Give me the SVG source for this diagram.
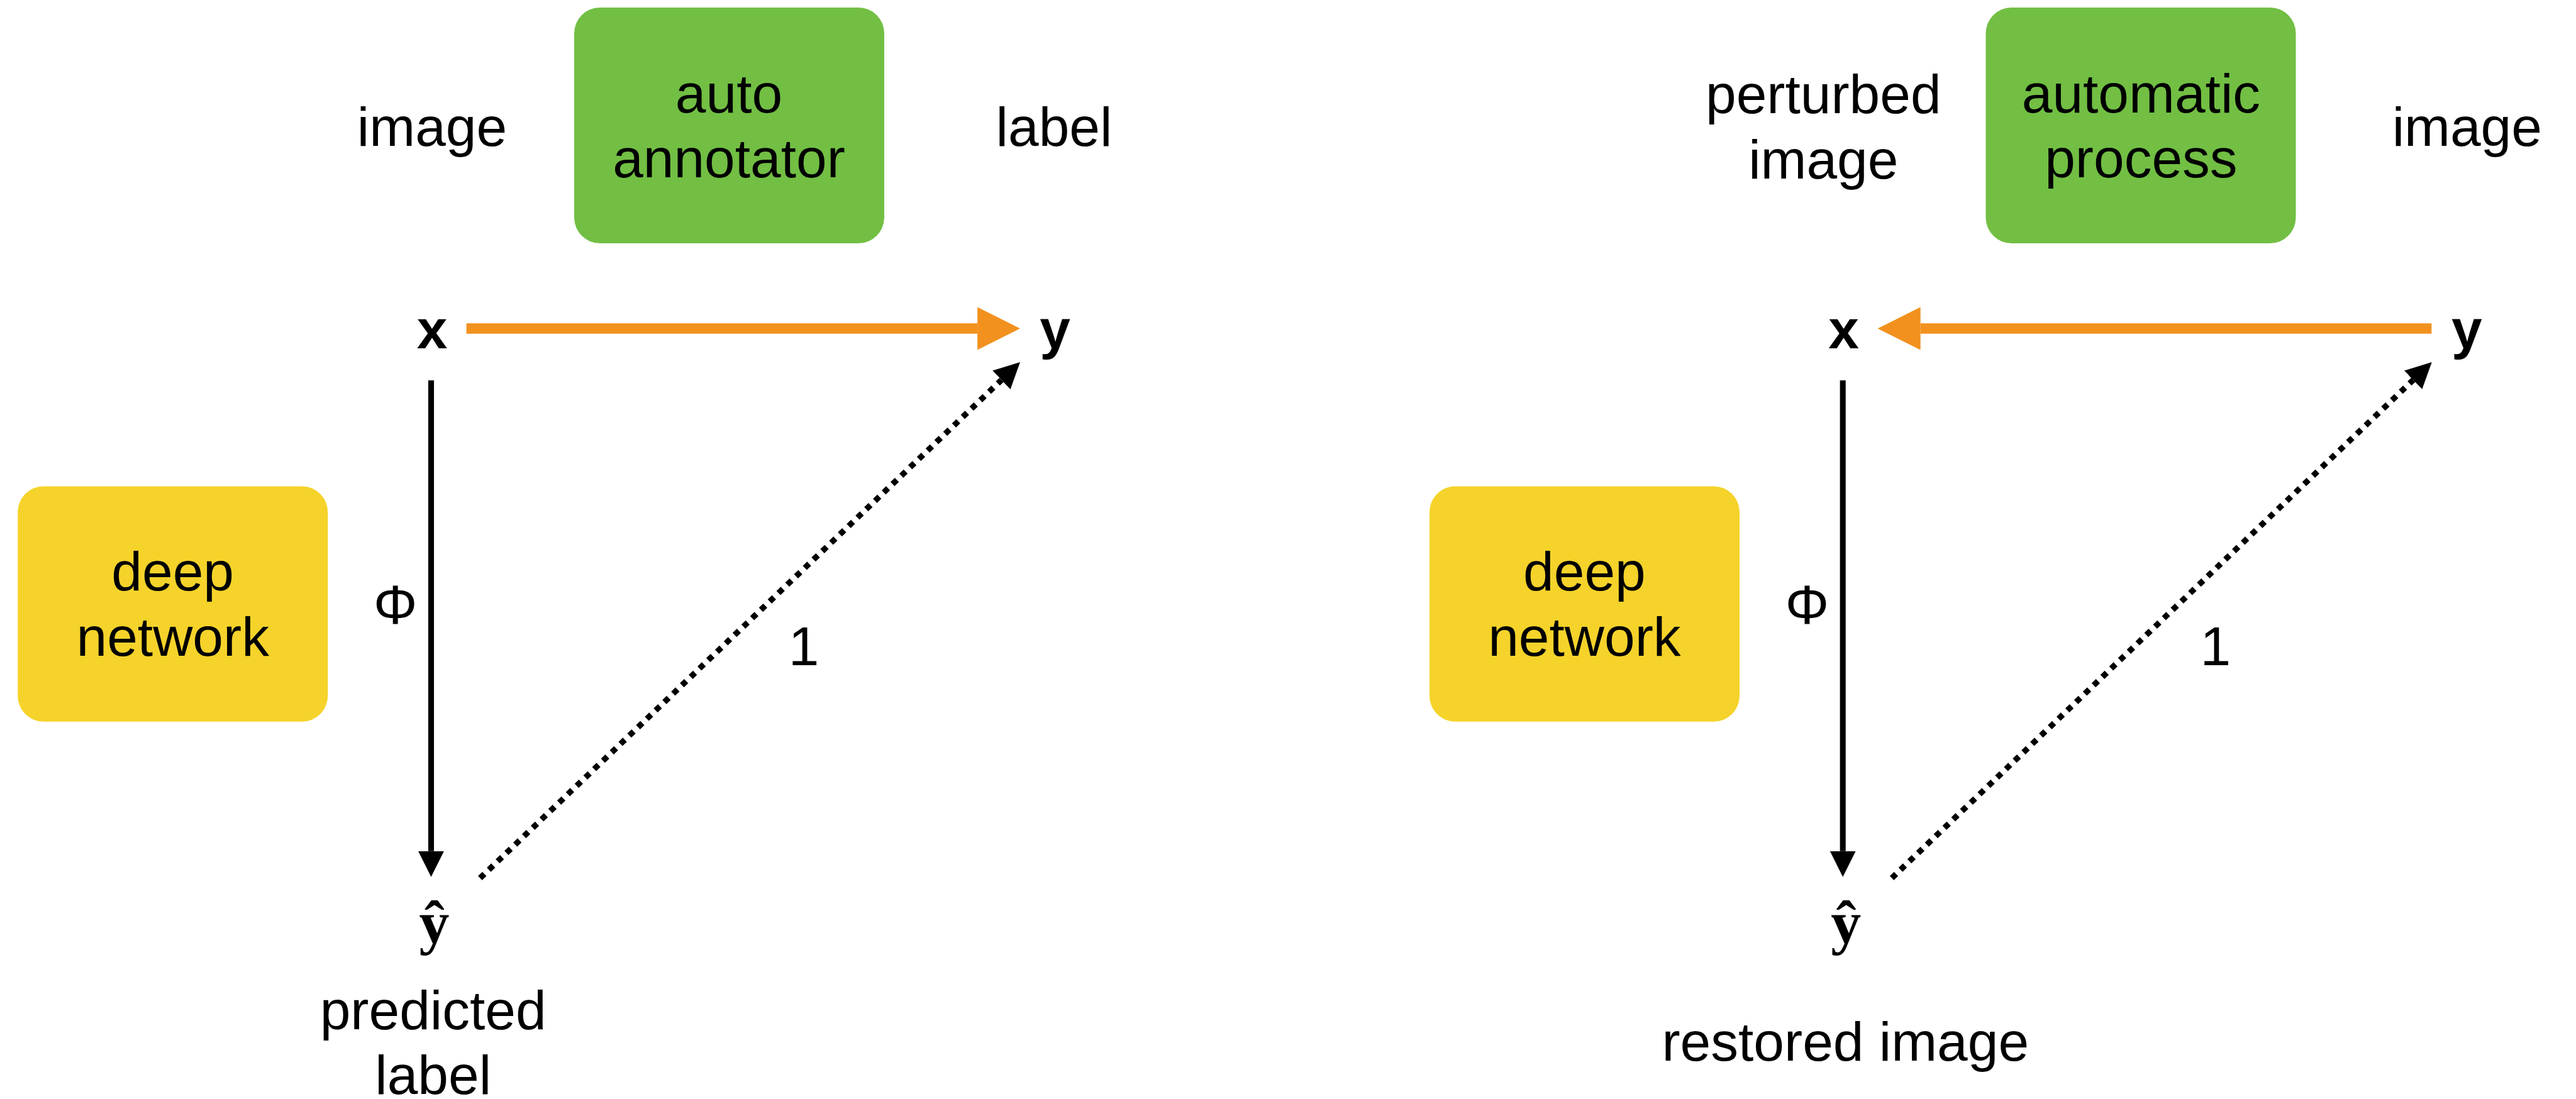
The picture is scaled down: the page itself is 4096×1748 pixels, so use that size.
<svg xmlns="http://www.w3.org/2000/svg" width="4096" height="1748" viewBox="0 0 4096 1748">
  <style>
    .lbl { font-family: "Liberation Sans", Arial, Helvetica, sans-serif; font-size: 87.5px; fill: #000; text-anchor: middle; }
    .var { font-family: "Liberation Sans", Arial, Helvetica, sans-serif; font-size: 87.5px; font-weight: bold; fill: #000; text-anchor: middle; }
    .hat { font-family: "Liberation Serif", "Times New Roman", serif; font-size: 96px; font-weight: bold; fill: #000; text-anchor: middle; }
    .green { fill: #72BF44; }
    .yellow { fill: #F5D32A; }
    .orange { stroke: #F2911E; stroke-width: 16.4; fill: none; }
    .solid { stroke: #000; stroke-width: 9.1; fill: none; }
    .dotted { stroke: #000; stroke-width: 9.3; fill: none; stroke-dasharray: 9.5 9.8; }
  </style>
  <defs>
    <marker id="headOrange" markerUnits="userSpaceOnUse" markerWidth="68" markerHeight="68" viewBox="0 0 67 67" refX="0" refY="33.5" orient="auto">
      <path d="M0,0 L67,33.5 L0,67 Z" fill="#F2911E"/>
    </marker>
    <marker id="headBlack" markerUnits="userSpaceOnUse" markerWidth="41" markerHeight="41" viewBox="0 0 40 40" refX="0" refY="20" orient="auto">
      <path d="M0,0 L40,20 L0,40 Z" fill="#000"/>
    </marker>
  </defs>

  <rect width="4096" height="1748" fill="#fff"/>

  <!-- left panel: annotation -->
  <g id="auto-annotator">
    <rect class="green" x="913" y="12" width="493" height="375" rx="41" ry="41"/>
    <text class="lbl" x="1159" y="178.6">auto</text>
    <text class="lbl" x="1159" y="282.4">annotator</text>
  </g>
  <g id="deep-network-left">
    <rect class="yellow" x="28.2" y="773.4" width="493" height="374.4" rx="41" ry="41"/>
    <text class="lbl" x="274.7" y="939.2">deep</text>
    <text class="lbl" x="274.7" y="1043.1">network</text>
  </g>
  <g id="text-image-left"><text class="lbl" x="687" y="232.3">image</text></g>
  <g id="text-label-left"><text class="lbl" x="1676" y="232.3">label</text></g>
  <g id="x-left"><text class="var" x="687" y="553.9">x</text></g>
  <g id="y-left"><text class="var" x="1677.6" y="553.9">y</text></g>
  <g id="yhat-left">
    <text class="hat" x="690.5" y="1499.5">ŷ</text>
    <text class="lbl" x="688.7" y="1637.1">predicted</text>
    <text class="lbl" x="688.7" y="1740">label</text>
  </g>
  <g id="phi-left"><text class="lbl" x="628.6" y="992.1">Φ</text></g>
  <g id="one-left"><text class="lbl" x="1278" y="1057.7">1</text></g>

  <!-- right panel: restoration -->
  <g id="automatic-process">
    <rect class="green" x="3157.5" y="12" width="493" height="375" rx="41" ry="41"/>
    <text class="lbl" x="3404.4" y="178.6">automatic</text>
    <text class="lbl" x="3404.4" y="282.4">process</text>
  </g>
  <g id="deep-network-right">
    <rect class="yellow" x="2273" y="773.4" width="493" height="374.4" rx="41" ry="41"/>
    <text class="lbl" x="2519.4" y="939.2">deep</text>
    <text class="lbl" x="2519.4" y="1043.1">network</text>
  </g>
  <g id="text-perturbed-image">
    <text class="lbl" x="2899.3" y="180.4">perturbed</text>
    <text class="lbl" x="2899.3" y="284.2">image</text>
  </g>
  <g id="text-image-right"><text class="lbl" x="3922.8" y="232.3">image</text></g>
  <g id="x-right"><text class="var" x="2931.6" y="553.9">x</text></g>
  <g id="y-right"><text class="var" x="3922.3" y="553.9">y</text></g>
  <g id="yhat-right">
    <text class="hat" x="2935.2" y="1499.5">ŷ</text>
    <text class="lbl" x="2934.3" y="1687.2">restored image</text>
  </g>
  <g id="phi-right"><text class="lbl" x="2873.3" y="992.1">Φ</text></g>
  <g id="one-right"><text class="lbl" x="3522.8" y="1057.7">1</text></g>

  <!-- connectors -->
  <g id="connectors">
    <line class="orange" x1="741.6" y1="522.5" x2="1554.2" y2="522.5" marker-end="url(#headOrange)"/>
    <line class="solid" x1="685.5" y1="604.9" x2="685.5" y2="1353.7" marker-end="url(#headBlack)"/>
    <line class="dotted" x1="763.4" y1="1396.6" x2="1592.4" y2="604.4" marker-end="url(#headBlack)"/>

    <line class="orange" x1="3866.3" y1="522.5" x2="3053.7" y2="522.5" marker-end="url(#headOrange)"/>
    <line class="solid" x1="2930.2" y1="604.9" x2="2930.2" y2="1353.7" marker-end="url(#headBlack)"/>
    <line class="dotted" x1="3008.1" y1="1396.6" x2="3837.1" y2="604.4" marker-end="url(#headBlack)"/>
  </g>
</svg>
